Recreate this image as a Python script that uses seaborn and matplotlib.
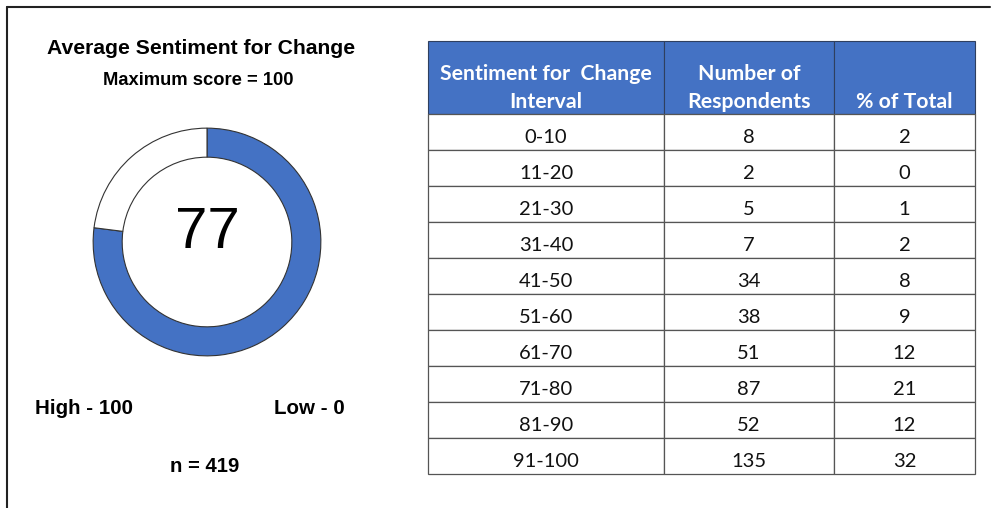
import matplotlib.pyplot as plt
import seaborn as sns
from matplotlib.patches import Rectangle

# data
score = 77
max_score = 100
n_resp = 419
intervals = ['0-10', '11-20', '21-30', '31-40', '41-50', '51-60', '61-70', '71-80', '81-90', '91-100']
respondents = [8, 2, 5, 7, 34, 38, 51, 87, 52, 135]
pct_total = [2, 0, 1, 2, 8, 9, 12, 21, 12, 32]
header = [['Sentiment for  Change', 'Interval'], ['Number of', 'Respondents'], ['', '% of Total']]

blue = '#4472C4'
W, H = 995, 508

sns.set_theme(style='white')
plt.rcParams['font.family'] = ['Liberation Sans', 'DejaVu Sans']
plt.rcParams['text.color'] = 'black'

fig = plt.figure(figsize=(W / 100, H / 100), dpi=100)

def px_axes(x0, y0, x1, y1):
    return fig.add_axes([x0 / W, 1 - y1 / H, (x1 - x0) / W, (y1 - y0) / H])

# frame lines (left and top)
fig.add_artist(plt.Line2D([7 / W, 7 / W], [0, 1 - 7 / H], color='#222222', lw=1.5))
fig.add_artist(plt.Line2D([7 / W, 990 / W], [1 - 7 / H, 1 - 7 / H], color='#222222', lw=1.5))

# left titles
fig.text(201 / W, 1 - 49 / H, 'Average Sentiment for Change', ha='center', va='center',
         fontsize=15.2, fontweight='bold')
fig.text(198 / W, 1 - 81 / H, 'Maximum score = 100', ha='center', va='center',
         fontsize=13.2, fontweight='bold')

# donut
cx, cy, r = 207, 242, 115
ax_d = px_axes(cx - r, cy - r, cx + r, cy + r)
ax_d.pie([score, max_score - score], colors=[blue, 'white'], startangle=90, counterclock=False,
         radius=1.0, wedgeprops=dict(width=0.255, edgecolor='#333333', linewidth=0.8))
ax_d.set_aspect('equal')
ax_d.set_xlim(-1.01, 1.01)
ax_d.set_ylim(-1.01, 1.01)
ax_d.text(0, 0.08, str(score), ha='center', va='center', fontsize=42, color='black')
ax_d.axis('off')

fig.text(84 / W, 1 - 409 / H, 'High - 100', ha='center', va='center', fontsize=14.8, fontweight='bold')
fig.text(309 / W, 1 - 409 / H, 'Low - 0', ha='center', va='center', fontsize=14.8, fontweight='bold')
fig.text(205 / W, 1 - 466 / H, f'n = {n_resp}', ha='center', va='center', fontsize=14.6, fontweight='bold')

# table
col_w = [236, 170, 141]
col_x = [0, 236, 406]
head_h = 73 / 36
nrows = len(intervals)
ax_t = px_axes(428, 41, 975, 474)
ax_t.set_xlim(0, sum(col_w))
ax_t.set_ylim(nrows + head_h, 0)
ax_t.axis('off')

tfont = ['Lato', 'DejaVu Sans']
for j in range(3):
    ax_t.add_patch(Rectangle((col_x[j], 0), col_w[j], head_h, facecolor=blue,
                             edgecolor='#2f3f5f', lw=0.8, clip_on=False))
    l1, l2 = header[j]
    xc = col_x[j] + col_w[j] / 2
    ax_t.text(xc, 33 / 36, l1, ha='center', va='center', color='white', fontsize=15.3,
              fontweight='bold', family=tfont)
    ax_t.text(xc, 61 / 36, l2, ha='center', va='center', color='white', fontsize=15.3,
              fontweight='bold', family=tfont)

cols = [intervals, respondents, pct_total]
for i in range(nrows):
    y = head_h + i
    for j in range(3):
        ax_t.add_patch(Rectangle((col_x[j], y), col_w[j], 1, facecolor='white',
                                 edgecolor='#555555', lw=0.9, clip_on=False))
        ax_t.text(col_x[j] + col_w[j] / 2, y + 0.64, str(cols[j][i]), ha='center', va='center',
                  fontsize=14.5, color='#111111', family=tfont)

fig.savefig('out.png', dpi=100)
